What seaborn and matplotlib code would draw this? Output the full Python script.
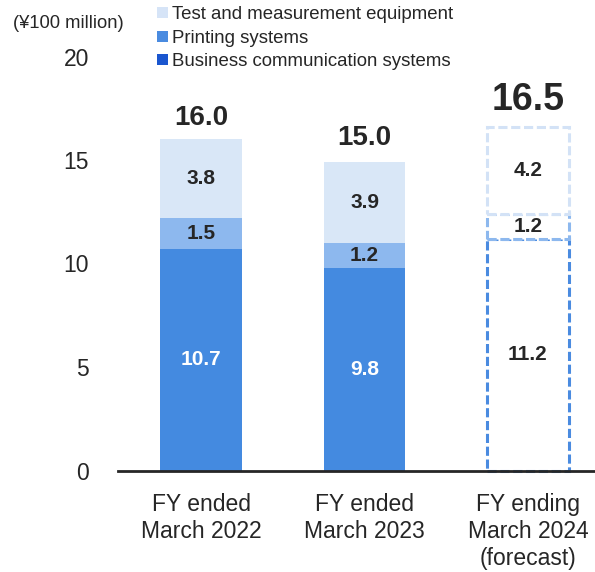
import numpy as np
import pandas as pd
import matplotlib
matplotlib.use('Agg')
import matplotlib.pyplot as plt
import seaborn as sns
from matplotlib.patches import Patch

sns.set_style('white')
plt.rcParams['font.family'] = ['Liberation Sans', 'DejaVu Sans']

# data (¥100 million)
periods = ['FY ended\nMarch 2022', 'FY ended\nMarch 2023', 'FY ending\nMarch 2024\n(forecast)']
printing = [10.7, 9.8, 11.2]   # bottom segment
business = [1.5, 1.2, 1.2]     # middle segment
test_eq = [3.8, 3.9, 4.2]      # top segment
totals = [16.0, 15.0, 16.5]

legend_labels = ['Test and measurement equipment', 'Printing systems', 'Business communication systems']
legend_colors = ['#d6e4f7', '#4a8be0', '#1a56cf']

seg_colors = ['#448ae0', '#8db8ee', '#d9e7f7']
seg_text = ['white', '#262626', '#262626']
forecast_edge = ['#4a8be0', '#8db8ee', '#d3e2f6']

fig = plt.figure(figsize=(5.95, 5.72), dpi=100)
ax = fig.add_axes([118 / 595, 101.5 / 572, 477 / 595, 414 / 572])

layers = [printing, business, test_eq]
base = np.zeros(len(periods))
for i, vals in enumerate(layers):
    df = pd.DataFrame({'period': periods, 'value': vals})
    n_before = len(ax.patches)
    sns.barplot(data=df, x='period', y='value', color=seg_colors[i], saturation=1,
                width=0.5, errorbar=None, bottom=base.copy(), linewidth=0, ax=ax)
    bars = ax.patches[n_before:]
    # forecast bar: white fill with dashed outline
    fb = bars[2]
    fb.set_facecolor('white')
    fb.set_edgecolor(forecast_edge[i])
    fb.set_linewidth(2.2)
    fb.set_linestyle((0, (3, 1.2)))
    fb.set_clip_on(False)
    fb.set_zorder(1 + i * 0.1)
    for j, v in enumerate(vals):
        color = seg_text[i] if j < 2 else '#262626'
        ax.text(j, base[j] + v / 2, f'{v:.1f}', ha='center', va='center',
                fontsize=15, fontweight='bold', color=color, zorder=10)
    base = base + np.array(vals)

# totals above bars
for j, t in enumerate(totals):
    if j == 2:
        ax.text(j, t + 0.9, f'{t:.1f}', ha='center', va='baseline', fontsize=27,
                fontweight='bold', color='#262626')
    else:
        ax.text(j, t + 0.71, f'{t:.1f}', ha='center', va='baseline', fontsize=20,
                fontweight='bold', color='#262626')

ax.set_ylim(0, 20)
ax.set_xlim(-0.508, 2.41)
ax.set_yticks([0, 5, 10, 15, 20])
ax.set_xlabel('')
ax.set_ylabel('')
ax.tick_params(axis='y', length=0, pad=21, labelsize=16.5, labelcolor='#262626')
ax.tick_params(axis='x', length=0, pad=16, labelsize=16.5, labelcolor='#262626')
for lab in ax.get_xticklabels():
    lab.set_linespacing(1.22)
    lab.set_verticalalignment('top')
sns.despine(ax=ax, left=True, right=True, top=True)
ax.spines['bottom'].set_color('#262626')
ax.spines['bottom'].set_linewidth(2)
ax.spines['bottom'].set_zorder(5)

fig.text(68 / 595, 1 - 23 / 572, '(¥100 million)', ha='center', va='center',
         fontsize=13.2, color='#262626')

handles = [Patch(facecolor=c, edgecolor='none') for c in legend_colors]
fig.legend(handles, legend_labels, loc='upper left', bbox_to_anchor=(150 / 595, 1 + 1 / 572),
           frameon=False, fontsize=13.4, handlelength=0.55, handleheight=0.55,
           handletextpad=0.25, labelspacing=0.34, labelcolor='#262626', borderaxespad=0)

fig.savefig('out.png', dpi=100, facecolor='white')
